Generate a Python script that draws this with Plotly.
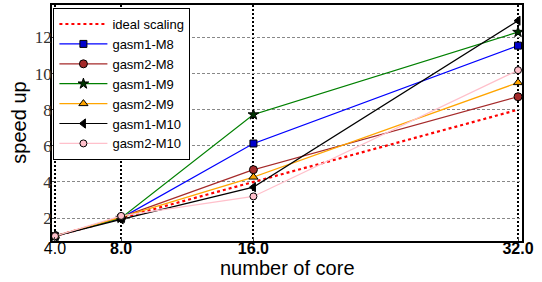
import plotly.graph_objects as go

cores = [4, 8, 16, 32]
ideal = [1, 2, 4, 8]
gasm1_m8 = [1, 2.0, 6.13, 11.55]
gasm2_m8 = [1, 2.05, 4.68, 8.72]
gasm1_m9 = [1, 2.0, 7.73, 12.3]
gasm2_m9 = [1, 2.05, 4.27, 9.5]
gasm1_m10 = [1, 1.93, 3.71, 12.93]
gasm2_m10 = [1, 2.12, 3.2, 10.19]
xtick_vals = [4, 8, 16, 32]
xtick_text = ["4.0", "<b>8.0</b>", "<b>16.0</b>", "<b>32.0</b>"]
ytick_vals = [2, 4, 6, 8, 10, 12]

SANS = "Liberation Sans, Arial, sans-serif"

fig = go.Figure()
fig.add_trace(go.Scatter(x=cores, y=ideal, name="ideal scaling", mode="lines",
                         line=dict(color="red", width=2.2, dash="dot")))
series = [
    ("gasm1-M8", gasm1_m8, "blue", "#0000cc", "square", 7),
    ("gasm2-M8", gasm2_m8, "#a52a2a", "#a52a2a", "circle", 8),
    ("gasm1-M9", gasm1_m9, "green", "#003300", "star", 8),
    ("gasm2-M9", gasm2_m9, "orange", "orange", "triangle-up", 8),
    ("gasm1-M10", gasm1_m10, "black", "black", "triangle-left", 8),
    ("gasm2-M10", gasm2_m10, "pink", "pink", "circle", 7),
]
for name, ys, lc, mc, sym, ms in series:
    fig.add_trace(go.Scatter(x=cores, y=ys, name=name, mode="lines+markers",
                             line=dict(color=lc, width=1.2),
                             marker=dict(symbol=sym, size=ms, color=mc,
                                         line=dict(color="black", width=1))))

fig.update_layout(
    width=542, height=282,
    margin=dict(l=52, r=20, t=5, b=41),
    plot_bgcolor="white", paper_bgcolor="white",
    showlegend=True,
    legend=dict(x=0.003, y=0.987, xanchor="left", yanchor="top",
                bgcolor="white", bordercolor="black", borderwidth=1,
                font=dict(family=SANS, size=13, color="black"),
                tracegroupgap=0, itemwidth=48),
    xaxis=dict(range=[3.82, 32.24], tickvals=xtick_vals, ticktext=xtick_text,
               tickfont=dict(family=SANS, size=16, color="black"),
               ticklabelstandoff=-8,
               showgrid=True, gridcolor="black", griddash="2px,2px", gridwidth=1.5,
               showline=True, linecolor="black", linewidth=1.5, mirror=True,
               ticks="inside", ticklen=4, zeroline=False, automargin=False),
    yaxis=dict(range=[0.73, 13.8], tickvals=ytick_vals,
               tickfont=dict(family="Liberation Serif", size=17, color="#333"),
               ticklabelstandoff=-5,
               showgrid=True, gridcolor="#888", griddash="3px,2px", gridwidth=1,
               showline=True, linecolor="black", linewidth=1.5, mirror=True,
               ticks="inside", ticklen=4, zeroline=False, automargin=False),
    annotations=[
        dict(text="number of core", xref="paper", yref="paper", x=0.5, y=-0.116,
             xanchor="center", yanchor="middle", showarrow=False,
             font=dict(family=SANS, size=20, color="black")),
        dict(text="speed up", xref="paper", yref="paper", x=-0.071, y=0.5,
             xanchor="center", yanchor="middle", showarrow=False, textangle=-90,
             font=dict(family=SANS, size=20, color="black")),
    ],
)
fig.write_html("out.html", config={"displayModeBar": False},
               post_script="document.body.style.margin='0';")
